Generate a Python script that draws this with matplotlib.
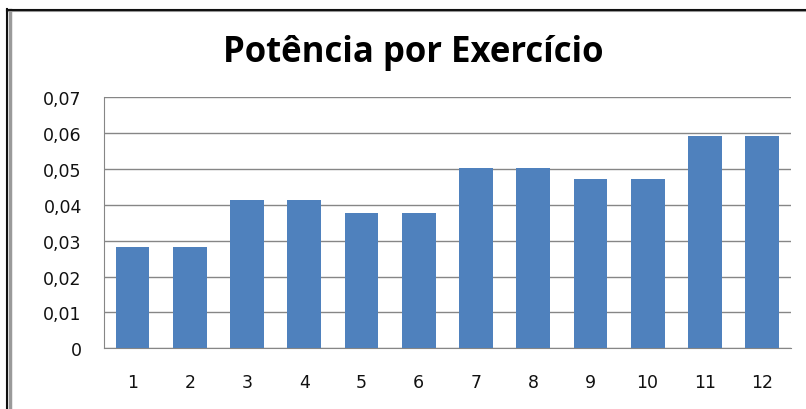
import matplotlib
matplotlib.use("Agg")
import matplotlib.pyplot as plt
from matplotlib.lines import Line2D
from matplotlib.ticker import FuncFormatter

# potência média por exercício
exercicios = [str(i) for i in range(1, 13)]
potencia = [0.0283, 0.0283, 0.0414, 0.0414, 0.0378, 0.0378,
            0.0502, 0.0502, 0.0472, 0.0472, 0.0592, 0.0592]
y_ticks = [0, 0.01, 0.02, 0.03, 0.04, 0.05, 0.06, 0.07]

BLUE = "#4F81BD"
GRID = "#868686"


def _fmt(v, _pos):
    if abs(v) < 1e-9:
        return "0"
    return f"{v:.2f}".replace(".", ",")


fig = plt.figure(figsize=(8.06, 4.10), dpi=100)
ax = fig.add_axes([0.129, 0.148, 0.852, 0.612])

x = range(len(exercicios))
ax.bar(x, potencia, width=0.59, color=BLUE, zorder=3)

ax.set_xlim(-0.5, len(exercicios) - 0.5)
ax.set_ylim(0, 0.07)
ax.set_yticks(y_ticks)
ax.yaxis.set_major_formatter(FuncFormatter(_fmt))
ax.set_xticks(list(x))
ax.set_xticklabels(exercicios)

ax.grid(axis="y", color=GRID, linewidth=1.0, zorder=0)
for side in ("top", "right"):
    ax.spines[side].set_visible(False)
ax.spines["left"].set_color(GRID)
ax.spines["bottom"].set_color(GRID)
ax.tick_params(axis="both", length=0, labelsize=12.5, colors="#111111")
ax.tick_params(axis="y", pad=16)
ax.tick_params(axis="x", pad=18)

fig.text(0.513, 1 - 62 / 410, "Potência por Exercício", ha="center",
         va="baseline", fontsize=25, fontweight="bold",
         family=["Open Sans", "DejaVu Sans"])

# moldura do gráfico (só os lados superior e esquerdo aparecem)
H, W = 410.0, 806.0
fig.add_artist(Line2D([7 / W, 1], [1 - 11.5 / H] * 2, color="#9a9a9a", lw=1.5,
                      transform=fig.transFigure))
fig.add_artist(Line2D([9.5 / W] * 2, [0, 1 - 11 / H], color="#9a9a9a", lw=2.5,
                      transform=fig.transFigure))
fig.add_artist(Line2D([7 / W, 1], [1 - 10.5 / H] * 2, color="#111111", lw=1.5,
                      transform=fig.transFigure))
fig.add_artist(Line2D([7 / W] * 2, [0, 1 - 10 / H], color="#111111", lw=1.5,
                      transform=fig.transFigure))

fig.savefig("out.png", dpi=100)
